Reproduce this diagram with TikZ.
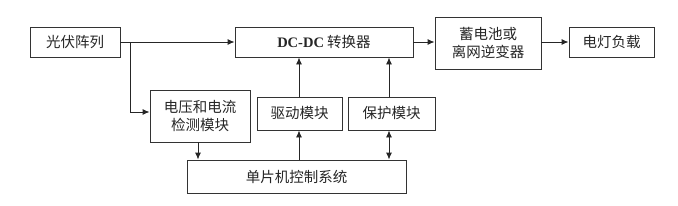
\documentclass[tikz,border=0pt]{standalone}
\usepackage{fontspec}
\setmainfont{Liberation Serif}
\newfontfamily\cjk{Noto Sans CJK SC}
\usetikzlibrary{arrows.meta}
\begin{document}
\begin{tikzpicture}[x=1pt,y=-1pt,
  blk/.style={draw=black!80,line width=0.9pt,inner sep=0pt,font=\cjk\fontsize{14.5}{18}\selectfont,text=black!85,align=center},
  conn/.style={draw=black!85,line width=0.9pt,-{Latex[length=7pt,width=6pt]}}]
\useasboundingbox (0,0) rectangle (678,206);
\node[blk,minimum width=90pt,minimum height=30pt] (pv) at (75,42) {光伏阵列};
\node[blk,minimum width=178pt,minimum height=30pt] (dc) at (324,42) {{\rmfamily\bfseries DC-DC} 转换器};
\node[blk,minimum width=106pt,minimum height=52pt] (bat) at (488,43) {蓄电池或\\离网逆变器};
\node[blk,minimum width=85pt,minimum height=30pt] (load) at (611.5,42) {电灯负载};
\node[blk,minimum width=100pt,minimum height=52pt] (det) at (200,116) {电压和电流\\检测模块};
\node[blk,minimum width=85pt,minimum height=33pt] (drv) at (299.5,113.5) {驱动模块};
\node[blk,minimum width=87pt,minimum height=33pt] (prt) at (391.5,113.5) {保护模块};
\node[blk,minimum width=219pt,minimum height=33pt] (mcu) at (296.5,176.5) {单片机控制系统};
\coordinate (br) at (130,42);
\draw[conn] (pv.east) -- (dc.west);
\draw[conn] (br) |- (det.west |- 0,112);
\draw[conn] (dc.east) -- (bat.west |- dc.east);
\draw[conn] (bat.east |- load.west) -- (load.west);
\draw[conn] (drv.north -| 299,0) -- (dc.south -| 299,0);
\draw[conn] (mcu.north -| 299,0) -- (drv.south -| 299,0);
\draw[conn] (prt.north -| 389,0) -- (dc.south -| 389,0);
\draw[conn,{Latex[length=7pt,width=6pt]}-{Latex[length=7pt,width=6pt]}] (prt.south -| 389,0) -- (mcu.north -| 389,0);
\draw[conn] (det.south -| 198,0) -- (mcu.north -| 198,0);
\end{tikzpicture}
\end{document}
